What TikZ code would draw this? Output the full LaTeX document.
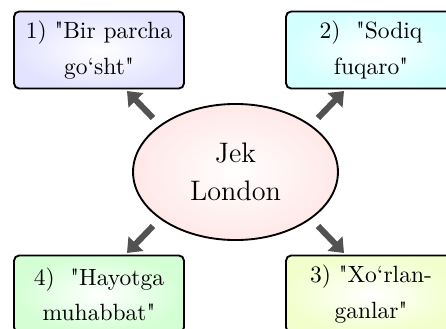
\documentclass[tikz,border=0pt]{standalone}
\usetikzlibrary{arrows.meta,shapes.geometric}
\font\boxfont="[lmroman10-regular]" at 10pt
\tikzset{
    book/.style={draw=black, thick, rounded corners=2.2pt, minimum width=72.3pt,
        minimum height=32.8pt, align=center, font=\boxfont, inner color=white, outer color=#1},
    pointer/.style={draw=black!68, line width=2.6pt, -{Triangle[length=5.5pt,width=8.5pt]}}
}
\begin{document}
\begin{tikzpicture}[x=0.4255pt,y=-0.4255pt]
    \useasboundingbox (0,0) rectangle (446,329);
    \node[shape=ellipse, draw=black, thick, minimum width=87.2pt, minimum height=57.9pt,
        inner color=white, outer color=red!9, font=\large, align=center] (jek) at (235.5,172) {Jek\\[2pt]London};

    \node[book=blue!11] (b1) at (99,50) {1) "Bir parcha\\[3pt]go‘sht"};
    \node[book=cyan!17] (b2) at (371,50) {2)~ "Sodiq\\[3pt]fuqaro"};
    \node[book=lime!20] (b3) at (371,294) {3) "Xo‘rlan-\\[3pt]ganlar"};
    \node[book=green!17] (b4) at (99,294) {4)~ "Hayotga\\[3pt]muhabbat"};

    \coordinate (s1) at (153,118); \coordinate (t1) at (127,91);
    \coordinate (s2) at (318,118); \coordinate (t2) at (344,91);
    \coordinate (s3) at (318,226); \coordinate (t3) at (344,253);
    \coordinate (s4) at (153,226); \coordinate (t4) at (127,253);
    \foreach \a in {1,...,4}
        \draw[pointer] (s\a) -- (t\a);
\end{tikzpicture}
\end{document}
